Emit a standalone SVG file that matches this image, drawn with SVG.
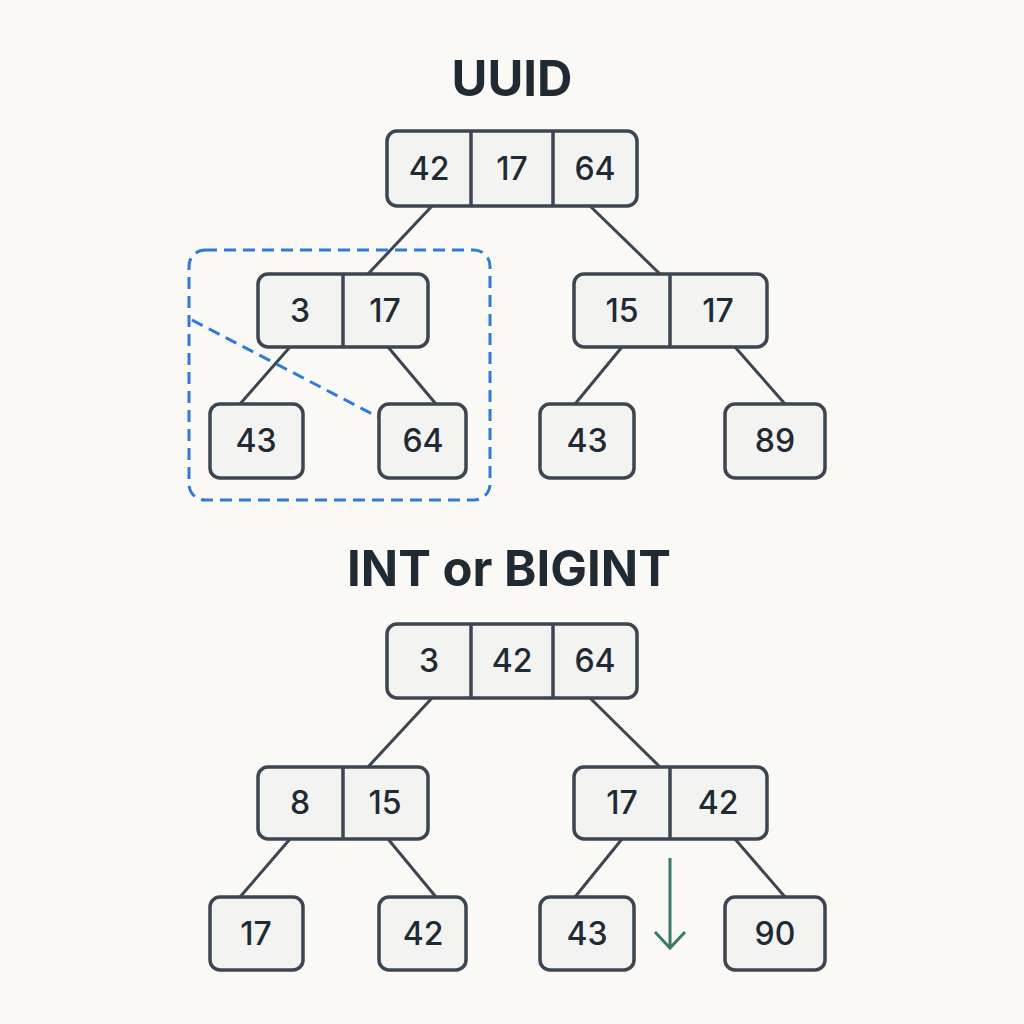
<svg xmlns="http://www.w3.org/2000/svg" width="1024" height="1024" viewBox="0 0 1024 1024">
<style>
.n{fill:#f3f3f2;stroke:#3d4550;stroke-width:3.5}
.d{stroke:#3d4550;stroke-width:3.5}
.t{font-family:Inter,"Liberation Sans",sans-serif;font-size:32px;font-weight:500;fill:#1f2a33;text-anchor:middle}
.h{font-family:Inter,"Liberation Sans",sans-serif;font-size:49px;font-weight:700;fill:#1f2a33;text-anchor:middle}
.e{stroke:#3d4550;stroke-width:3;fill:none}
</style>
<rect width="1024" height="1024" fill="#faf9f6"/>
<text class="h" x="512" y="96">UUID</text>
<text class="h" x="509" y="586">INT or BIGINT</text>
<g id="connectors">
<path class="e" d="M432 206L368 274M590 206L660 274M290 347L240 404M388 347L436 404M622 347L575 404M735 347L785 404"/>
<path class="e" d="M432 698L368 767M590 698L660 767M290 839L240 897M388 839L436 897M622 839L575 897M735 839L785 897"/>
<path d="M192 320L380 418" stroke="#2f7bd9" stroke-width="3" stroke-dasharray="12 7" fill="none"/>
<path d="M670 858V948M655 932L670 948L685 932" stroke="#3a7a6a" stroke-width="3" fill="none"/>
</g>
<rect id="highlight" x="189" y="250" width="301" height="250" rx="16" fill="none" stroke="#2f7bd9" stroke-width="3" stroke-dasharray="12 7"/>
<g id="u-root"><rect class="n" x="387" y="131" width="250" height="75" rx="10"/><path class="d" d="M471 131V206M553 131V206"/>
<text class="t" x="429" y="180">42</text><text class="t" x="512" y="180">17</text><text class="t" x="595" y="180">64</text></g>
<g id="u-left"><rect class="n" x="258" y="274" width="170" height="73" rx="10"/><path class="d" d="M343 274V347"/>
<text class="t" x="300" y="322">3</text><text class="t" x="385" y="322">17</text></g>
<g id="u-right"><rect class="n" x="574" y="274" width="193" height="73" rx="10"/><path class="d" d="M670 274V347"/>
<text class="t" x="622" y="322">15</text><text class="t" x="718" y="322">17</text></g>
<g id="u-l1"><rect class="n" x="210" y="404" width="93" height="74" rx="10"/><text class="t" x="256" y="452">43</text></g>
<g id="u-l2"><rect class="n" x="379" y="404" width="87" height="74" rx="10"/><text class="t" x="423" y="452">64</text></g>
<g id="u-l3"><rect class="n" x="540" y="404" width="94" height="74" rx="10"/><text class="t" x="587" y="452">43</text></g>
<g id="u-l4"><rect class="n" x="725" y="404" width="100" height="74" rx="10"/><text class="t" x="775" y="452">89</text></g>
<g id="i-root"><rect class="n" x="387" y="624" width="250" height="74" rx="10"/><path class="d" d="M471 624V698M553 624V698"/>
<text class="t" x="429" y="672">3</text><text class="t" x="512" y="672">42</text><text class="t" x="595" y="672">64</text></g>
<g id="i-left"><rect class="n" x="258" y="767" width="170" height="72" rx="10"/><path class="d" d="M343 767V839"/>
<text class="t" x="300" y="814">8</text><text class="t" x="385" y="814">15</text></g>
<g id="i-right"><rect class="n" x="574" y="767" width="193" height="72" rx="10"/><path class="d" d="M670 767V839"/>
<text class="t" x="622" y="814">17</text><text class="t" x="718" y="814">42</text></g>
<g id="i-l1"><rect class="n" x="210" y="897" width="93" height="73" rx="10"/><text class="t" x="256" y="945">17</text></g>
<g id="i-l2"><rect class="n" x="379" y="897" width="87" height="73" rx="10"/><text class="t" x="423" y="945">42</text></g>
<g id="i-l3"><rect class="n" x="540" y="897" width="94" height="73" rx="10"/><text class="t" x="587" y="945">43</text></g>
<g id="i-l4"><rect class="n" x="725" y="897" width="100" height="73" rx="10"/><text class="t" x="775" y="945">90</text></g>
</svg>
